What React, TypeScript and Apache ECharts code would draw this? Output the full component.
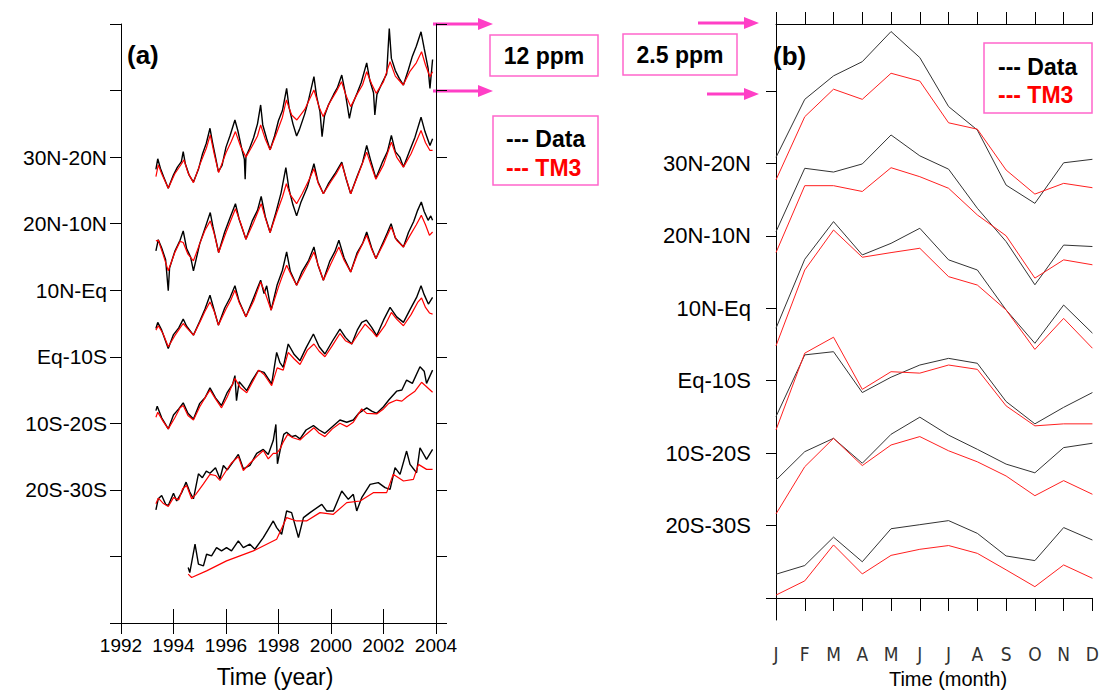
import React, { useEffect, useRef } from "react";
import * as echarts from "echarts";

// ---------- Categories / labels ----------
const regions = ["30N-20N", "20N-10N", "10N-Eq", "Eq-10S", "10S-20S", "20S-30S"];
const months = ["J", "F", "M", "A", "M", "J", "J", "A", "S", "O", "N", "D"];
// vertical offsets (ppm) of each latitude band, panel (a): 12 ppm per band, panel (b): 2.5 ppm per band
const aOffsets = [84, 72, 60, 48, 36, 24];
const bOffsets = [15, 12.5, 10, 7.5, 5, 2.5];
const aLabelValues = [24, 36, 48, 60, 72, 84];
const bTickValues = [0, 2.5, 5, 7.5, 10, 12.5, 15, 17.5];
const bLabelValues = [2.5, 5, 7.5, 10, 12.5, 15];

// ---------- Panel (a): [year, CO2 anomaly ppm] ----------
const dataA_30N20N: [number, number][] = [
  [1993.33, -2.2], [1993.4, -0.3], [1993.5, -2.0], [1993.62, -3.5], [1993.8, -5.6], [1994.0, -3.2], [1994.15, -1.8],
  [1994.3, -0.8], [1994.37, 1.0], [1994.45, -1.2], [1994.6, -3.3], [1994.76, -4.5], [1994.95, -2.2], [1995.1, 0.5],
  [1995.25, 2.5], [1995.39, 5.2], [1995.48, 2.8], [1995.6, 0.0], [1995.71, -2.6], [1995.85, -1.5], [1996.0, 1.8],
  [1996.15, 3.8], [1996.34, 6.7], [1996.45, 4.8], [1996.6, 1.5], [1996.7, -0.4], [1996.73, -4.0], [1996.76, 0.1],
  [1996.9, 1.6], [1997.05, 3.5], [1997.2, 6.0], [1997.32, 9.4], [1997.4, 5.8], [1997.55, 3.3], [1997.68, 1.3],
  [1997.85, 3.8], [1998.0, 6.6], [1998.15, 8.4], [1998.31, 12.4], [1998.4, 9.0], [1998.55, 6.0], [1998.69, 3.8],
  [1998.8, 5.0], [1999.0, 7.8], [1999.15, 10.4], [1999.35, 14.5], [1999.45, 11.0], [1999.58, 8.2], [1999.66, 3.7],
  [1999.75, 7.4], [1999.9, 9.4], [2000.1, 11.3], [2000.25, 12.6], [2000.41, 14.8], [2000.55, 11.4], [2000.7, 7.0],
  [2000.8, 9.3], [2001.0, 11.6], [2001.15, 13.4], [2001.36, 17.0], [2001.48, 13.8], [2001.62, 11.6], [2001.67, 7.6],
  [2001.75, 11.3], [2001.95, 13.4], [2002.12, 15.0], [2002.22, 23.2], [2002.3, 17.8], [2002.45, 15.6], [2002.6, 14.2],
  [2002.76, 13.0], [2002.95, 15.8], [2003.1, 18.2], [2003.25, 20.0], [2003.43, 22.6], [2003.55, 19.6], [2003.7, 16.0],
  [2003.77, 12.4], [2003.87, 17.6],
];
const tm3A_30N20N: [number, number][] = [
  [1993.33, -3.5], [1993.42, -1.4], [1993.55, -3.0], [1993.8, -5.6], [1994.05, -3.0], [1994.25, -1.6], [1994.4, -0.5],
  [1994.55, -2.8], [1994.76, -4.6], [1995.0, -1.4], [1995.25, 1.6], [1995.4, 4.0], [1995.55, 0.6], [1995.72, -2.8],
  [1996.0, 0.8], [1996.2, 2.8], [1996.36, 4.6], [1996.55, 2.0], [1996.76, 0.0], [1997.0, 2.0], [1997.2, 3.8],
  [1997.32, 5.8], [1997.5, 3.2], [1997.68, 1.3], [1997.9, 4.0], [1998.15, 7.2], [1998.3, 10.3], [1998.5, 7.6],
  [1998.7, 6.7], [1999.0, 8.6], [1999.2, 10.6], [1999.35, 12.1], [1999.55, 9.0], [1999.7, 7.3], [1999.95, 9.8],
  [2000.2, 11.8], [2000.4, 13.6], [2000.58, 11.0], [2000.75, 9.1], [2001.0, 11.4], [2001.2, 13.0], [2001.36, 15.4],
  [2001.55, 13.2], [2001.72, 11.5], [2002.0, 13.6], [2002.25, 17.2], [2002.45, 14.6], [2002.75, 13.0], [2003.0, 15.4],
  [2003.25, 17.0], [2003.45, 19.0], [2003.6, 16.6], [2003.77, 14.5], [2003.87, 15.4],
];
const dataA_20N10N: [number, number][] = [
  [1993.33, -4.9], [1993.42, -2.9], [1993.55, -4.4], [1993.7, -6.5], [1993.8, -12.1], [1993.85, -8.0], [1994.05, -5.0],
  [1994.25, -3.0], [1994.37, -1.3], [1994.5, -4.5], [1994.65, -6.0], [1994.76, -8.5], [1995.0, -3.6], [1995.2, -0.8],
  [1995.4, 2.0], [1995.5, -0.5], [1995.72, -5.2], [1995.95, -1.5], [1996.15, 1.0], [1996.36, 3.6], [1996.5, 0.8],
  [1996.76, -2.8], [1997.0, 0.5], [1997.2, 2.4], [1997.34, 4.9], [1997.5, 1.2], [1997.68, -1.6], [1997.9, 2.0],
  [1998.1, 5.6], [1998.28, 10.1], [1998.4, 6.2], [1998.55, 3.4], [1998.69, 1.4], [1998.85, 3.8], [1999.1, 6.6],
  [1999.35, 10.8], [1999.5, 7.6], [1999.71, 5.4], [1999.9, 7.2], [2000.15, 9.0], [2000.41, 11.1], [2000.58, 8.0],
  [2000.75, 5.4], [2001.0, 8.6], [2001.2, 11.0], [2001.36, 14.1], [2001.5, 11.6], [2001.71, 8.2], [2001.95, 11.0],
  [2002.15, 13.0], [2002.3, 15.9], [2002.45, 13.0], [2002.62, 12.0], [2002.76, 10.2], [2003.0, 13.2], [2003.2, 15.6],
  [2003.43, 19.2], [2003.58, 16.6], [2003.77, 14.1], [2003.87, 15.3],
];
const tm3A_20N10N: [number, number][] = [
  [1993.33, -3.1], [1993.42, -3.0], [1993.6, -5.5], [1993.8, -8.5], [1994.05, -5.2], [1994.25, -3.2], [1994.37, -3.4],
  [1994.55, -5.5], [1994.76, -6.7], [1995.0, -3.6], [1995.2, -1.2], [1995.4, 0.5], [1995.55, -1.8], [1995.72, -5.2],
  [1996.0, -1.6], [1996.2, 0.8], [1996.36, 2.7], [1996.55, 0.2], [1996.76, -2.8], [1997.05, 0.2], [1997.34, 3.6],
  [1997.5, 1.0], [1997.68, -1.6], [1997.95, 2.2], [1998.15, 4.8], [1998.3, 7.2], [1998.45, 5.2], [1998.69, 3.6],
  [1998.9, 5.4], [1999.15, 7.8], [1999.35, 9.9], [1999.52, 7.2], [1999.71, 5.4], [2000.0, 7.6], [2000.2, 9.0],
  [2000.41, 10.8], [2000.6, 7.8], [2000.75, 5.4], [2001.0, 8.4], [2001.36, 12.9], [2001.52, 10.6], [2001.71, 8.0],
  [2002.0, 10.6], [2002.3, 14.7], [2002.5, 12.0], [2002.76, 10.2], [2003.05, 12.6], [2003.43, 16.8], [2003.6, 14.6],
  [2003.77, 13.2], [2003.87, 13.2],
];
const dataA_10NEq: [number, number][] = [
  [1993.33, -6.9], [1993.4, -5.8], [1993.55, -7.2], [1993.8, -10.5], [1994.0, -8.0], [1994.2, -6.8], [1994.37, -5.2],
  [1994.5, -6.5], [1994.76, -8.1], [1995.0, -5.6], [1995.2, -3.4], [1995.39, -0.9], [1995.55, -3.6], [1995.71, -6.3],
  [1995.95, -3.2], [1996.15, -1.4], [1996.34, 0.8], [1996.5, -2.0], [1996.76, -4.8], [1997.0, -2.0], [1997.2, 0.4],
  [1997.32, 1.8], [1997.45, -0.6], [1997.55, 0.8], [1997.72, -3.6], [1997.95, 1.0], [1998.15, 3.6], [1998.31, 6.9],
  [1998.45, 3.4], [1998.69, 0.9], [1998.9, 3.4], [1999.15, 5.4], [1999.35, 7.8], [1999.5, 4.6], [1999.71, 1.8],
  [1999.95, 5.2], [2000.15, 7.0], [2000.3, 9.0], [2000.5, 5.8], [2000.75, 3.3], [2001.0, 6.8], [2001.2, 8.4],
  [2001.36, 10.5], [2001.55, 7.6], [2001.71, 5.7], [2002.0, 8.8], [2002.15, 10.4], [2002.29, 12.0], [2002.45, 9.4],
  [2002.76, 7.8], [2002.95, 10.4], [2003.15, 12.4], [2003.3, 14.4], [2003.44, 15.9], [2003.55, 14.2], [2003.7, 12.6],
  [2003.8, 13.4], [2003.87, 12.6],
];
const tm3A_10NEq: [number, number][] = [
  [1993.33, -7.2], [1993.42, -6.4], [1993.6, -7.8], [1993.8, -10.2], [1994.05, -8.2], [1994.25, -6.8], [1994.37, -6.0],
  [1994.55, -7.0], [1994.76, -8.1], [1995.0, -5.8], [1995.2, -3.8], [1995.39, -2.1], [1995.55, -3.8], [1995.71, -6.3],
  [1996.0, -3.4], [1996.2, -1.6], [1996.34, 0.0], [1996.5, -2.2], [1996.76, -4.8], [1997.05, -2.0], [1997.32, 1.5],
  [1997.5, -0.6], [1997.72, -3.6], [1998.0, 0.6], [1998.15, 2.6], [1998.31, 4.5], [1998.5, 2.6], [1998.69, 0.9],
  [1998.95, 3.2], [1999.15, 5.0], [1999.35, 6.9], [1999.52, 4.4], [1999.71, 1.8], [2000.0, 4.8], [2000.3, 7.8],
  [2000.5, 5.4], [2000.75, 3.3], [2001.0, 6.4], [2001.36, 9.9], [2001.55, 7.4], [2001.71, 5.7], [2002.0, 8.4],
  [2002.29, 11.4], [2002.5, 9.0], [2002.76, 7.8], [2003.0, 9.8], [2003.25, 11.8], [2003.44, 13.5], [2003.6, 11.8],
  [2003.75, 9.9], [2003.87, 10.5],
];
const dataA_Eq10S: [number, number][] = [
  [1993.33, -9.7], [1993.38, -8.9], [1993.55, -11.0], [1993.8, -13.0], [1994.0, -10.5], [1994.2, -9.4], [1994.37, -8.3],
  [1994.55, -10.2], [1994.76, -11.2], [1995.0, -8.4], [1995.2, -7.4], [1995.39, -5.6], [1995.6, -7.4], [1995.83, -8.8],
  [1996.05, -6.4], [1996.25, -5.0], [1996.34, -3.4], [1996.4, -7.9], [1996.5, -4.5], [1996.79, -6.1], [1997.0, -4.2],
  [1997.23, -2.5], [1997.45, -2.8], [1997.74, -4.9], [1997.93, 0.8], [1998.05, -1.0], [1998.18, -1.9], [1998.37, 2.3],
  [1998.6, 0.4], [1998.82, -0.7], [1999.05, 1.6], [1999.33, 4.1], [1999.55, 1.8], [1999.77, 0.5], [2000.05, 2.8],
  [2000.34, 5.0], [2000.55, 3.5], [2000.79, 2.3], [2001.0, 4.8], [2001.17, 6.2], [2001.35, 6.6], [2001.55, 5.3],
  [2001.74, 3.8], [2002.0, 6.6], [2002.25, 8.9], [2002.5, 7.2], [2002.76, 6.2], [2003.0, 8.4], [2003.26, 10.7],
  [2003.43, 12.8], [2003.55, 11.2], [2003.71, 9.5], [2003.87, 10.7],
];
const tm3A_Eq10S: [number, number][] = [
  [1993.33, -10.9], [1993.4, -10.0], [1993.6, -11.6], [1993.8, -13.0], [1994.05, -11.0], [1994.25, -9.2], [1994.37, -8.8],
  [1994.55, -10.6], [1994.76, -11.4], [1995.0, -9.0], [1995.25, -7.0], [1995.39, -6.0], [1995.6, -7.6], [1995.83, -9.2],
  [1996.05, -7.2], [1996.34, -3.9], [1996.55, -5.6], [1996.79, -6.5], [1997.05, -4.2], [1997.25, -2.4], [1997.45, -3.2],
  [1997.74, -5.2], [1997.95, -2.0], [1998.18, -2.4], [1998.37, 0.8], [1998.6, -0.4], [1998.82, -1.4], [1999.1, 1.2],
  [1999.35, 2.3], [1999.55, 1.0], [1999.77, 0.0], [2000.05, 2.0], [2000.34, 4.2], [2000.55, 2.9], [2000.79, 2.3],
  [2001.05, 4.2], [2001.3, 5.9], [2001.55, 4.7], [2001.74, 3.6], [2002.05, 5.6], [2002.3, 8.0], [2002.5, 6.8],
  [2002.76, 5.6], [2003.05, 7.6], [2003.3, 9.8], [2003.45, 10.6], [2003.6, 8.9], [2003.75, 7.9], [2003.87, 7.7],
];
const dataA_10S20S: [number, number][] = [
  [1993.33, -15.6], [1993.42, -13.6], [1993.55, -13.0], [1993.7, -14.6], [1993.8, -14.8], [1994.0, -12.6], [1994.12, -14.0],
  [1994.31, -12.5], [1994.48, -10.6], [1994.62, -12.4], [1994.76, -13.6], [1994.95, -9.1], [1995.1, -9.8], [1995.25, -8.6],
  [1995.39, -9.0], [1995.6, -8.0], [1995.77, -10.0], [1995.9, -7.6], [1996.05, -8.4], [1996.2, -7.4], [1996.47, -5.6],
  [1996.66, -8.2], [1996.91, -7.6], [1997.17, -5.4], [1997.42, -4.7], [1997.61, -5.6], [1997.8, -3.1], [1997.9, -0.2],
  [1997.96, -7.3], [1998.06, -4.9], [1998.2, -2.0], [1998.31, -1.6], [1998.5, -2.4], [1998.65, -2.2], [1998.82, -2.8],
  [1999.05, -1.2], [1999.33, -0.4], [1999.55, -1.2], [1999.77, -1.8], [2000.05, -0.6], [2000.34, 0.6], [2000.6, 0.2],
  [2000.85, 0.6], [2001.05, 1.8], [2001.36, 2.8], [2001.55, 2.2], [2001.74, 1.8], [2002.0, 3.0], [2002.2, 4.2],
  [2002.5, 5.8], [2002.7, 6.0], [2002.88, 7.8], [2003.1, 7.2], [2003.39, 10.2], [2003.55, 9.4], [2003.64, 7.2],
  [2003.87, 9.6],
];
const tm3A_10S20S: [number, number][] = [
  [1993.33, -14.5], [1993.42, -13.5], [1993.6, -14.4], [1993.8, -15.0], [1994.0, -13.4], [1994.2, -13.8], [1994.35, -11.8],
  [1994.5, -11.2], [1994.69, -13.6], [1994.85, -12.8], [1995.14, -10.9], [1995.39, -9.2], [1995.6, -9.4], [1995.77, -10.3],
  [1996.0, -8.6], [1996.2, -7.2], [1996.47, -6.0], [1996.66, -8.5], [1996.91, -7.2], [1997.17, -6.0], [1997.42, -4.9],
  [1997.61, -6.4], [1997.8, -5.4], [1997.93, -5.4], [1998.06, -4.6], [1998.2, -3.2], [1998.35, -2.0], [1998.55, -2.6],
  [1998.82, -3.0], [1999.05, -2.0], [1999.35, -0.8], [1999.55, -1.8], [1999.77, -2.4], [2000.05, -1.0], [2000.34, 0.0],
  [2000.6, -0.6], [2000.85, 0.2], [2001.17, 2.6], [2001.36, 1.8], [2001.74, 1.7], [2002.0, 2.6], [2002.2, 3.6],
  [2002.5, 4.2], [2002.7, 4.0], [2002.9, 4.8], [2003.2, 5.8], [2003.45, 7.4], [2003.64, 6.6], [2003.87, 5.6],
];
const dataA_20S30S: [number, number][] = [
  [1994.56, -14.0], [1994.62, -14.9], [1994.82, -9.8], [1994.95, -13.4], [1995.14, -13.7], [1995.26, -11.6], [1995.45, -11.9],
  [1995.64, -10.4], [1995.83, -11.0], [1996.02, -10.4], [1996.21, -11.0], [1996.47, -9.2], [1996.66, -10.4], [1996.91, -9.8],
  [1997.1, -10.7], [1997.42, -8.6], [1997.61, -7.1], [1997.8, -5.6], [1997.93, -6.8], [1998.12, -8.0], [1998.31, -3.8],
  [1998.5, -4.1], [1998.76, -8.6], [1998.95, -5.0], [1999.2, -4.1], [1999.65, -2.6], [1999.83, -3.8], [2000.09, -3.8],
  [2000.41, -0.2], [2000.66, -1.7], [2000.85, -0.8], [2000.98, -3.8], [2001.17, -1.4], [2001.49, 1.0], [2001.8, 1.3],
  [2002.06, 0.4], [2002.25, 0.1], [2002.44, 4.0], [2002.63, 2.8], [2002.88, 7.0], [2003.01, 4.6], [2003.26, 3.1],
  [2003.39, 7.6], [2003.64, 5.5], [2003.87, 7.3],
];
const tm3A_20S30S: [number, number][] = [
  [1994.56, -15.2], [1994.69, -15.8], [1995.26, -14.6], [1996.02, -12.8], [1996.53, -11.9], [1997.04, -11.0], [1997.55, -9.8],
  [1997.93, -8.9], [1998.31, -5.0], [1998.69, -5.6], [1999.07, -5.6], [1999.58, -4.1], [2000.09, -4.4], [2000.6, -2.3],
  [2001.11, -2.0], [2001.61, -0.5], [2002.12, -0.5], [2002.37, 2.8], [2002.76, 1.6], [2003.14, 1.9], [2003.33, 4.6],
  [2003.64, 3.7], [2003.87, 3.7],
];

// ---------- Panel (b): mean seasonal cycle, ppm anomaly per month ----------
const dataB_30N20N = [0.21, 2.21, 3.02, 3.51, 4.55, 3.65, 1.96, 1.15, -0.75, -1.38, 0.02, 0.14];
const tm3B_30N20N = [-0.57, 1.61, 2.56, 2.21, 3.11, 2.84, 1.4, 1.18, -0.23, -1.06, -0.69, -0.84];
const dataB_20N10N = [0.14, 2.33, 2.2, 2.48, 3.48, 2.76, 2.3, 0.95, -0.2, -1.69, -0.32, -0.37];
const tm3B_20N10N = [-0.58, 1.73, 1.73, 1.53, 2.35, 2.04, 1.64, 0.72, 0.0, -1.46, -0.83, -1.0];
const dataB_10NEq = [-0.69, 1.69, 2.99, 1.84, 2.24, 2.76, 1.67, 1.32, -0.06, -1.21, 0.11, -0.86];
const tm3B_10NEq = [-1.3, 1.32, 2.7, 1.76, 1.92, 2.07, 1.09, 0.8, -0.06, -1.42, -0.35, -1.38];
const dataB_Eq10S = [-1.24, 0.89, 1.0, -0.41, 0.12, 0.54, 0.77, 0.6, -0.72, -1.49, -0.92, -0.41];
const tm3B_Eq10S = [-1.7, 0.95, 1.5, -0.3, 0.31, 0.26, 0.54, 0.39, -0.87, -1.56, -1.49, -1.49];
const dataB_10S20S = [-0.93, 0.05, 0.51, -0.35, 0.65, 1.24, 0.62, 0.13, -0.38, -0.68, 0.19, 0.34];
const tm3B_10S20S = [-2.1, -0.47, 0.51, -0.43, 0.28, 0.57, 0.08, -0.3, -0.79, -1.47, -0.95, -1.42];
const dataB_20S30S = [-1.68, -1.38, -0.4, -1.25, -0.11, 0.03, 0.17, -0.27, -1.05, -1.21, -0.07, -0.5];
const tm3B_20S30S = [-2.4, -1.91, -0.67, -1.67, -1.03, -0.82, -0.69, -0.96, -1.53, -2.11, -1.36, -1.82];

const aBlack = [dataA_30N20N, dataA_20N10N, dataA_10NEq, dataA_Eq10S, dataA_10S20S, dataA_20S30S];
const aRed = [tm3A_30N20N, tm3A_20N10N, tm3A_10NEq, tm3A_Eq10S, tm3A_10S20S, tm3A_20S30S];
const bBlack = [dataB_30N20N, dataB_20N10N, dataB_10NEq, dataB_Eq10S, dataB_10S20S, dataB_20S30S];
const bRed = [tm3B_30N20N, tm3B_20N10N, tm3B_10NEq, tm3B_Eq10S, tm3B_10S20S, tm3B_20S30S];

const FONT = "Liberation Sans, Arial, sans-serif";
const NARROW = "Liberation Sans Narrow, DejaVu Sans Condensed, Arial Narrow, sans-serif";
const PINK = "#ff3fc6";
const BOXPINK = "#ff66cc";

function arrow(x1: number, x2: number, y: number) {
  return [
    { type: "line", shape: { x1, y1: y, x2: x2 - 12, y2: y }, style: { stroke: PINK, lineWidth: 3 }, silent: true },
    {
      type: "polygon",
      shape: { points: [[x2 - 15, y - 6], [x2, y], [x2 - 15, y + 6]] },
      style: { fill: PINK },
      silent: true,
    },
  ];
}

function box(x: number, y: number, w: number, h: number) {
  return {
    type: "rect",
    shape: { x, y, width: w, height: h },
    style: { fill: "#fff", stroke: BOXPINK, lineWidth: 1.5 },
    silent: true,
  };
}

function txt(text: string, x: number, y: number, opts: any = {}) {
  return {
    type: "text",
    x,
    y,
    silent: true,
    style: {
      text,
      fill: opts.fill || "#000",
      font: `${opts.weight || "normal"} ${opts.size || 19}px ${FONT}`,
      textAlign: opts.align || "left",
      textVerticalAlign: "middle",
    },
  };
}

export default function App() {
  const ref = useRef<HTMLDivElement>(null);
  useEffect(() => {
    if (!ref.current) return;
    const chart = echarts.init(ref.current, null, { renderer: "svg" });

    const series: any[] = [];
    aBlack.forEach((d, i) => {
      series.push({
        type: "line", xAxisIndex: 0, yAxisIndex: 0, showSymbol: false, clip: false, silent: true,
        data: d.map(([x, v]) => [x, v + aOffsets[i]]),
        lineStyle: { color: "#000", width: 1.4 },
      });
    });
    aRed.forEach((d, i) => {
      series.push({
        type: "line", xAxisIndex: 0, yAxisIndex: 0, showSymbol: false, clip: false, silent: true,
        data: d.map(([x, v]) => [x, v + aOffsets[i]]),
        lineStyle: { color: "#ff0000", width: 1.2 },
      });
    });
    bBlack.forEach((d, i) => {
      series.push({
        type: "line", xAxisIndex: 2, yAxisIndex: 2, showSymbol: false, clip: false, silent: true,
        data: d.map((v, m) => [m, v + bOffsets[i]]),
        lineStyle: { color: "#333", width: 1 },
      });
    });
    bRed.forEach((d, i) => {
      series.push({
        type: "line", xAxisIndex: 2, yAxisIndex: 2, showSymbol: false, clip: false, silent: true,
        data: d.map((v, m) => [m, v + bOffsets[i]]),
        lineStyle: { color: "#ff2020", width: 1 },
      });
    });

    const axisLine = { show: true, lineStyle: { color: "#000", width: 1 } };

    const option: any = {
      animation: false,
      backgroundColor: "#fff",
      grid: [
        { left: 121, top: 24, width: 315, height: 599 },
        { left: 776, top: 24, width: 317, height: 596 },
      ],
      xAxis: [
        {
          gridIndex: 0, type: "value", position: "bottom", min: 1992, max: 2004, interval: 2,
          axisLine, axisTick: { show: true, length: 11, lineStyle: { color: "#000" } },
          axisLabel: {
            color: "#000", fontSize: 19, fontFamily: FONT, margin: 13,
            formatter: (v: number) => String(Math.round(v)),
          },
          splitLine: { show: false },
        },
        {
          gridIndex: 0, type: "value", position: "top", min: 1992, max: 2004, interval: 2,
          axisLine, axisTick: { show: true, length: 14, lineStyle: { color: "#000" } },
          axisLabel: { show: false }, splitLine: { show: false },
        },
        {
          gridIndex: 1, type: "value", position: "bottom", min: 0, max: 11, interval: 1,
          axisLine, axisTick: { show: true, length: 13, lineStyle: { color: "#000" } },
          axisLabel: {
            color: "#333", fontSize: 19, margin: 24, fontFamily: NARROW,
            formatter: (v: number) => months[Math.round(v)] ?? "",
          },
          splitLine: { show: false },
        },
        {
          gridIndex: 1, type: "value", position: "top", min: 0, max: 11, interval: 1,
          axisLine, axisTick: { show: true, length: 12, lineStyle: { color: "#000" } },
          axisLabel: { show: false }, splitLine: { show: false },
        },
      ],
      yAxis: [
        {
          gridIndex: 0, type: "value", position: "left", min: 0, max: 108, interval: 12,
          axisLine, axisTick: { show: true, length: 11, lineStyle: { color: "#000" } },
          axisLabel: {
            color: "#000", fontSize: 21, fontFamily: FONT, margin: 14,
            formatter: (v: number) => {
              const k = aLabelValues.indexOf(Math.round(v));
              return k >= 0 ? regions[aLabelValues.length - 1 - k] : "";
            },
          },
          splitLine: { show: false },
        },
        {
          gridIndex: 0, type: "value", position: "right", min: 0, max: 108, interval: 12,
          axisLine, axisTick: { show: true, length: 11, lineStyle: { color: "#000" } },
          axisLabel: { show: false }, splitLine: { show: false },
        },
        {
          gridIndex: 1, type: "value", position: "left", offset: 13, min: -0.76, max: 19.81,
          axisLine,
          axisTick: { show: true, length: 10, lineStyle: { color: "#000" }, customValues: bTickValues },
          axisLabel: {
            color: "#000", fontSize: 22, fontFamily: FONT, margin: 12,
            customValues: bLabelValues,
            formatter: (v: number) => {
              const k = bLabelValues.findIndex((b) => Math.abs(b - v) < 0.01);
              return k >= 0 ? regions[bLabelValues.length - 1 - k] : "";
            },
          },
          splitLine: { show: false },
        },
      ],
      series,
      graphic: [
        ...arrow(433, 493, 24),
        ...arrow(433, 493, 91),
        ...arrow(698, 759, 23),
        ...arrow(707, 759, 94),
        box(490, 35, 108, 41),
        txt("12 ppm", 544, 56, { weight: "bold", align: "center", size: 23 }),
        box(493, 116, 105, 69),
        txt("--- Data", 506, 139, { weight: "bold", size: 23 }),
        txt("--- TM3", 506, 168, { weight: "bold", size: 23, fill: "#ff0000" }),
        box(623, 34, 114, 41),
        txt("2.5 ppm", 680, 55, { weight: "bold", align: "center", size: 23 }),
        box(984, 43, 108, 70),
        txt("--- Data", 998, 67, { weight: "bold", size: 23 }),
        txt("--- TM3", 998, 95, { weight: "bold", size: 23, fill: "#ff0000" }),
        txt("(a)", 127, 55, { weight: "bold", size: 26 }),
        txt("(b)", 773, 56, { weight: "bold", size: 26 }),
        txt("Time (year)", 275, 677, { align: "center", size: 23 }),
        txt("Time (month)", 948, 679, { align: "center", size: 20 }),
      ],
    };
    chart.setOption(option);
    return () => chart.dispose();
  }, []);

  return (
    <div
      ref={ref}
      style={{ position: "fixed", left: 0, top: 0, width: 1102, height: 691, background: "#fff" }}
    />
  );
}
